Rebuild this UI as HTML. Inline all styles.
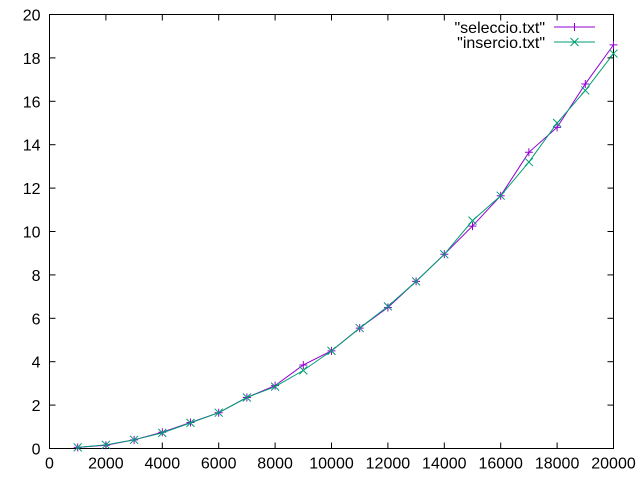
<!DOCTYPE html>
<html><head><style>body{margin:0;background:#fff}svg{display:block;font-family:"Liberation Sans",sans-serif;font-size:16px}</style></head>
<body>
<svg id="chart" width="640" height="480" xmlns="http://www.w3.org/2000/svg"></svg>
<script>
const xValues=[1000,2000,3000,4000,5000,6000,7000,8000,9000,10000,11000,12000,13000,14000,15000,16000,17000,18000,19000,20000];
const seleccio=[0.05,0.15,0.4,0.75,1.2,1.65,2.35,2.9,3.85,4.5,5.55,6.5,7.7,8.95,10.25,11.65,13.65,14.8,16.8,18.6];
const insercio=[0.05,0.17,0.4,0.72,1.18,1.65,2.35,2.85,3.6,4.5,5.55,6.55,7.7,8.95,10.5,11.65,13.2,15.0,16.5,18.2];
const xTicks=[0,2000,4000,6000,8000,10000,12000,14000,16000,18000,20000];
const yTicks=[0,2,4,6,8,10,12,14,16,18,20];
const L=49.5,R=613.5,T=14.5,B=448.5;
const sx=v=>L+(R-L)*v/20000, sy=v=>B-(B-T)*v/20;
const svg=document.getElementById('chart');const NS='http://www.w3.org/2000/svg';
function mk(t,a,p){const e=document.createElementNS(NS,t);for(const k in a)e.setAttribute(k,a[k]);(p||svg).appendChild(e);return e;}
xTicks.forEach(v=>{const x=sx(v);
const t=mk('line',{x1:x,x2:x,y1:B,y2:B-6,stroke:'#000'});
mk('line',{x1:x,x2:x,y1:T,y2:T+6,stroke:'#000'});
const l=mk('text',{x:x,y:B+20,'text-anchor':'middle'});l.textContent=v;});
yTicks.forEach(v=>{const y=sy(v);
const t=mk('line',{x1:L,x2:L+6,y1:y,y2:y,stroke:'#000'});
mk('line',{x1:R,x2:R-6,y1:y,y2:y,stroke:'#000'});
const l=mk('text',{x:L-9,y:y+6,'text-anchor':'end'});l.textContent=v;});
const fr=mk('rect',{x:L,y:T,width:R-L,height:B-T,fill:'none',stroke:'#000'});

function series(vals,color,mark,name,ly,label){
const g=mk('g',{});
mk('polyline',{points:vals.map((v,i)=>sx(xValues[i])+','+sy(v)).join(' '),fill:'none',stroke:color},g);
const m=(x,y)=>{if(mark==='plus'){mk('path',{d:`M${x-4},${y}h8M${x},${y-4}v8`,stroke:color},g);}else{mk('path',{d:`M${x-4},${y-4}l8,8M${x-4},${y+4}l8,-8`,stroke:color},g);}};
vals.forEach((v,i)=>m(sx(xValues[i]),sy(v)));
const lg=mk('g',{});
const t=mk('text',{x:545,y:ly+6,'text-anchor':'end'},lg);t.textContent=label;
mk('line',{x1:554,x2:595,y1:ly,y2:ly,stroke:color},lg);
if(mark==='plus')mk('path',{d:`M574.5,${ly-4}v8`,stroke:color},lg);else mk('path',{d:`M570.5,${ly-4}l8,8M570.5,${ly+4}l8,-8`,stroke:color},lg);
}
series(seleccio,'#9400d3','plus','seleccio-series',27,'"seleccio.txt"');
series(insercio,'#009e73','x','insercio-series',42,'"insercio.txt"');
</script>
</body></html>
